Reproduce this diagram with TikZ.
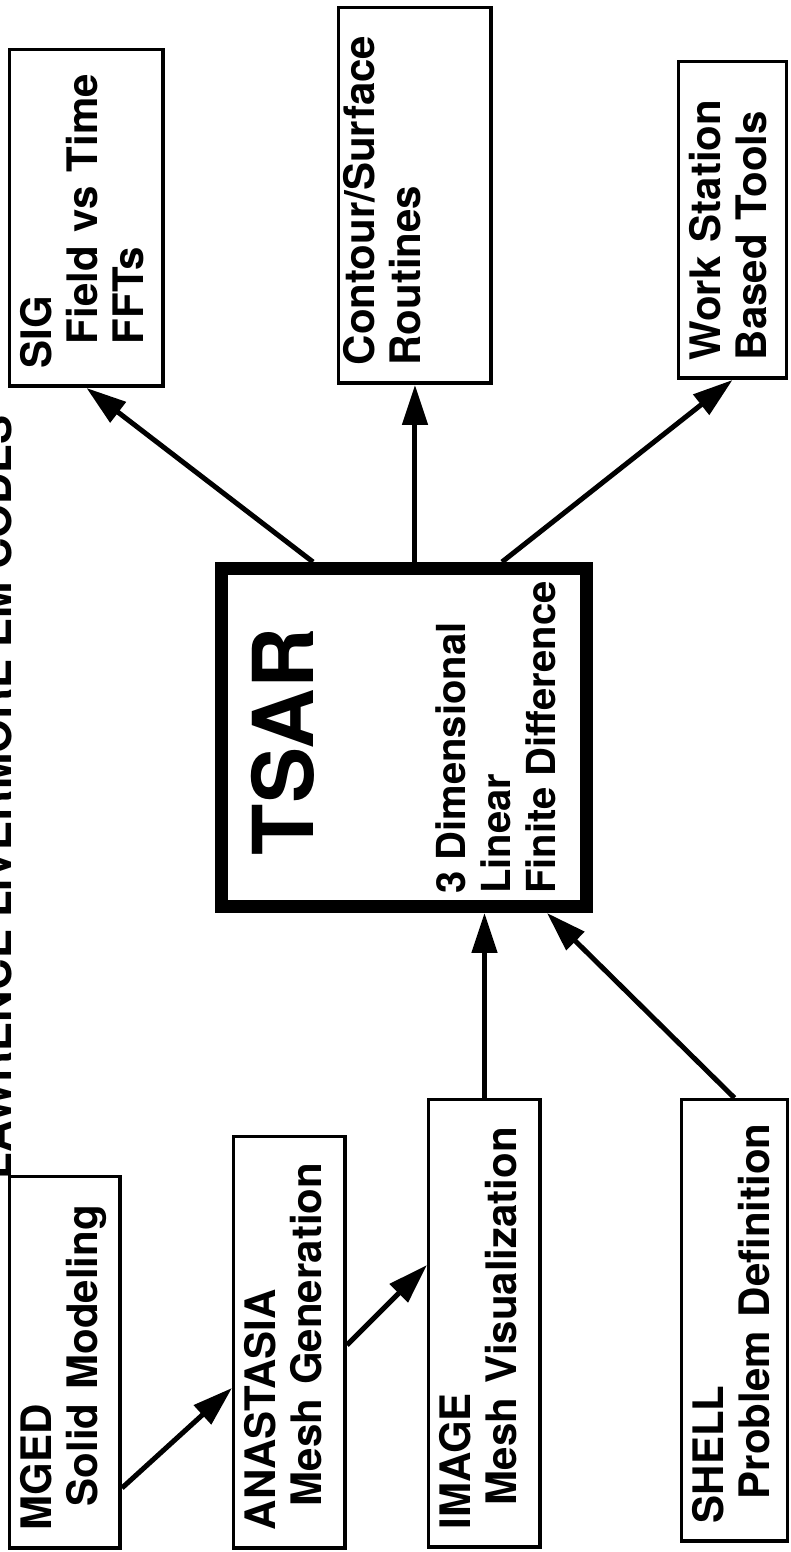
\documentclass[tikz,border=0pt]{standalone}
\usepackage{fontspec}
\setmainfont{TeX Gyre Heros}
\usetikzlibrary{arrows.meta,calc}
\newcommand\boxfont{\fontsize{42}{46}\selectfont\bfseries}
\newcommand\subfont{\fontsize{40}{45}\selectfont\bfseries}
\newcommand\tsarfont{\fontsize{84}{84}\selectfont\bfseries}
\newcommand\headfont{\fontsize{43.5}{44}\selectfont\bfseries}
\newcommand\ind{\hspace*{24pt}}
\begin{document}
\begin{tikzpicture}[
  x=1pt, y=1pt, rotate=90, transform shape,
  modbox/.style={draw, line width=3.5pt, anchor=north west, align=left,
                 font=\boxfont, inner xsep=18pt, inner ysep=12pt,
                 text height=30pt},
  tsarbox/.style={draw, line width=13pt, anchor=north west, align=left,
                  font=\subfont, inner sep=0pt},
  arrow/.style={-{Triangle[length=40pt,width=25pt]}, line width=5pt},
]
  \useasboundingbox (0,0) rectangle (1552,790);
  \clip (0,0) rectangle (1552,790);

  % banner, cut off by the page edge
  \node[font=\headfont, anchor=base west, inner sep=0pt] (banner) at (372,778)
    {LAWRENCE LIVERMORE EM CODES};

  % the solver
  \node[tsarbox, minimum width=338pt, minimum height=365pt] (tsar) at (639,575)
    {\hspace*{38pt}{\tsarfont TSAR}\\[107pt]3 Dimensional\\Linear\\Finite Difference};

  % pre-processing
  \node[modbox, text width=335.5pt, text depth=56.5pt] (mged) at (2,782)
    {MGED\\\ind Solid Modeling};
  \node[modbox, text width=375.5pt, text depth=57.5pt] (anastasia) at (2,558)
    {ANASTASIA\\\ind Mesh Generation};
  \node[modbox, text width=411.5pt, text depth=57.5pt] (image) at (3,363)
    {IMAGE\\\ind Mesh Visualization};
  \node[modbox, text width=405.5pt, text depth=51.5pt] (shell) at (9,110)
    {SHELL\\\ind Problem Definition};

  % post-processing
  \node[modbox, text width=300.5pt, text depth=99.5pt] (sig) at (1164,782)
    {SIG\\\ind Field vs Time\\\ind FFTs};
  \node[modbox, inner ysep=6pt, text width=339.5pt, text depth=110.5pt] (contour) at (1167,453)
    {Contour/Surface\\Routines};
  \node[modbox, text width=280.5pt, text depth=53.5pt] (ws) at (1172,113)
    {Work Station\\Based Tools};

  % flow into TSAR
  \draw[arrow] ([xshift=62pt]mged.south west) -- ([xshift=162pt]anastasia.north west);
  \draw[arrow] ([xshift=205pt]anastasia.south west) -- ([xshift=284pt]image.north west);
  \draw[arrow] (image.east) -- (image.east -| tsar.west);
  \draw[arrow] (shell.east) -- ([yshift=46pt]tsar.south west);

  % flow out of TSAR
  \draw[arrow] ([yshift=91pt]tsar.east) -- (sig.west);
  \draw[arrow] (tsar.east |- contour.west) -- (contour.west);
  \draw[arrow] ([yshift=-98pt]tsar.east) -- (ws.west);
\end{tikzpicture}
\end{document}
